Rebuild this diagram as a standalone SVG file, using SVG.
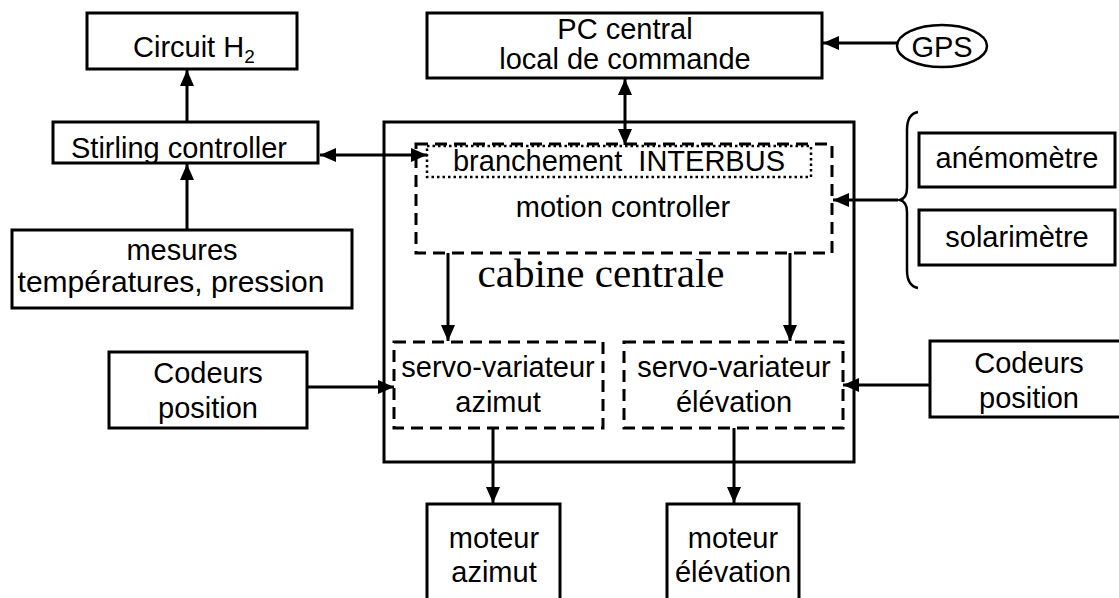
<svg xmlns="http://www.w3.org/2000/svg" width="1119" height="598" viewBox="0 0 1119 598">
<defs>
<style>
.box{fill:#fff;stroke:#000;stroke-width:3}
.dash{fill:none;stroke:#000;stroke-width:3;stroke-dasharray:12 7}
.dot{fill:none;stroke:#000;stroke-width:2.5;stroke-dasharray:2.5 3}
.t{font-family:"Liberation Sans",Arial,sans-serif;font-size:29px;fill:#000;text-anchor:middle}
.c{fill:none;stroke:#000;stroke-width:3}
</style>
<marker id="ah" viewBox="0 0 16 14" refX="16" refY="7" markerWidth="16" markerHeight="14" markerUnits="userSpaceOnUse" orient="auto-start-reverse">
<path d="M0,0 L16,7 L0,14 z" fill="#000"/>
</marker>
</defs>
<rect width="1119" height="598" fill="#fff"/>

<g id="cabine">
<rect class="box" x="384" y="122" width="470" height="340"/>
<text x="601" y="287" style="font-family:'Liberation Serif','Times New Roman',serif;font-size:41px;text-anchor:middle">cabine centrale</text>
</g>
<g id="motion">
<rect class="dash" x="416" y="144" width="416" height="109"/>
<text class="t" x="623" y="217">motion controller</text>
</g>
<g id="interbus">
<rect class="dot" x="427" y="146" width="384" height="31"/>
<text class="t" x="619" y="171" xml:space="preserve">branchement  INTERBUS</text>
</g>
<g id="servo-az">
<rect class="dash" x="394" y="342" width="209" height="86"/>
<text class="t" x="498" y="377">servo-variateur</text>
<text class="t" x="498" y="412">azimut</text>
</g>
<g id="servo-el">
<rect class="dash" x="624" y="342" width="219" height="86"/>
<text class="t" x="734" y="377">servo-variateur</text>
<text class="t" x="734" y="412">élévation</text>
</g>
<g id="circuit">
<rect class="box" x="87" y="13" width="210" height="56"/>
<text x="133" y="57" style="font-family:'Liberation Sans',Arial,sans-serif;font-size:29px">Circuit H<tspan dy="6" style="font-size:19px">2</tspan></text>
</g>
<g id="stirling">
<rect class="box" x="53" y="122" width="265" height="41"/>
<text class="t" x="179" y="158">Stirling controller</text>
</g>
<g id="mesures">
<rect class="box" x="12" y="230" width="340" height="78"/>
<text class="t" x="182" y="260">mesures</text>
<text class="t" x="171" y="292" style="font-size:30px">températures, pression</text>
</g>
<g id="pc">
<rect class="box" x="427" y="13" width="395" height="65"/>
<text class="t" x="625" y="39">PC central</text>
<text class="t" x="625" y="69">local de commande</text>
</g>
<g id="gps">
<ellipse cx="942" cy="46" rx="45" ry="21" fill="#fff" stroke="#000" stroke-width="2.5"/>
<text class="t" x="942" y="57">GPS</text>
</g>
<g id="anemometre">
<rect class="box" x="919" y="133" width="196" height="54"/>
<text class="t" x="1017" y="168">anémomètre</text>
</g>
<g id="solarimetre">
<rect class="box" x="919" y="210" width="196" height="55"/>
<text class="t" x="1017" y="247">solarimètre</text>
</g>
<g id="brace">
<path d="M918,112 Q907,114 907,130 L907,188 Q907,198 900,200 Q907,202 907,212 L907,270 Q907,286 918,288" fill="none" stroke="#000" stroke-width="2.5"/>
</g>
<g id="codeurs-l">
<rect class="box" x="109" y="352" width="198" height="76"/>
<text class="t" x="208" y="383">Codeurs</text>
<text class="t" x="208" y="418">position</text>
</g>
<g id="codeurs-r">
<rect class="box" x="930" y="341" width="200" height="76"/>
<text class="t" x="1029" y="373">Codeurs</text>
<text class="t" x="1029" y="408">position</text>
</g>
<g id="moteur-az">
<rect class="box" x="427" y="504" width="133" height="100"/>
<text class="t" x="494" y="548">moteur</text>
<text class="t" x="494" y="582">azimut</text>
</g>
<g id="moteur-el">
<rect class="box" x="667" y="504" width="132" height="100"/>
<text class="t" x="733" y="548">moteur</text>
<text class="t" x="733" y="582">élévation</text>
</g>

<g id="connectors" class="c">
<line x1="187" y1="122" x2="187" y2="70" marker-end="url(#ah)"/>
<line x1="187" y1="230" x2="187" y2="164" marker-end="url(#ah)"/>
<line x1="320" y1="155" x2="427" y2="155" marker-start="url(#ah)" marker-end="url(#ah)"/>
<line x1="625" y1="79" x2="625" y2="145" marker-start="url(#ah)" marker-end="url(#ah)"/>
<line x1="897" y1="43" x2="823" y2="43" marker-end="url(#ah)"/>
<line x1="898" y1="200" x2="833" y2="200" marker-end="url(#ah)"/>
<line x1="448" y1="253" x2="448" y2="341" marker-end="url(#ah)"/>
<line x1="790" y1="253" x2="790" y2="341" marker-end="url(#ah)"/>
<line x1="307" y1="387" x2="394" y2="387" marker-end="url(#ah)"/>
<line x1="930" y1="385" x2="843" y2="385" marker-end="url(#ah)"/>
<line x1="493" y1="428" x2="493" y2="503" marker-end="url(#ah)"/>
<line x1="734" y1="428" x2="734" y2="503" marker-end="url(#ah)"/>
</g>
</svg>
